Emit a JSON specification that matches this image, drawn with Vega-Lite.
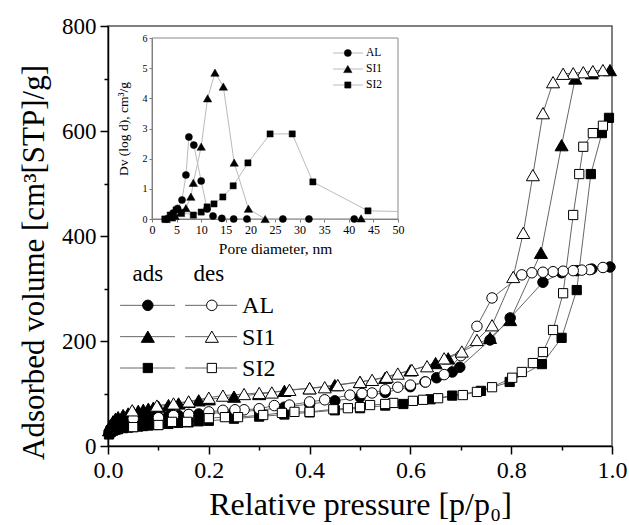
{
"$schema": "https://vega.github.io/schema/vega-lite/v6.json",
"width": 504, "height": 420,
"autosize": "none",
"padding": {"left": 108, "top": 26, "right": 17, "bottom": 79},
"background": "white",
"config": {
  "font": "Liberation Serif",
  "view": {"stroke": "#555", "strokeWidth": 1.5},
  "axis": {"grid": false, "labelFont": "Liberation Serif", "titleFont": "Liberation Serif", "titleFontWeight": "normal", "domainColor": "black", "tickColor": "black", "labelColor": "black", "titleColor": "black", "labelOverlap": false, "labelFlush": false}
},
"datasets": {
  "iso": [
{"s":"AL","m":"ads","p":0.002,"v":26},{"s":"AL","m":"ads","p":0.005,"v":33},{"s":"AL","m":"ads","p":0.01,"v":38},{"s":"AL","m":"ads","p":0.015,"v":41},{"s":"AL","m":"ads","p":0.02,"v":43},{"s":"AL","m":"ads","p":0.03,"v":46},{"s":"AL","m":"ads","p":0.04,"v":48},{"s":"AL","m":"ads","p":0.05,"v":50},{"s":"AL","m":"ads","p":0.06,"v":51},{"s":"AL","m":"ads","p":0.07,"v":52},{"s":"AL","m":"ads","p":0.08,"v":53},{"s":"AL","m":"ads","p":0.09,"v":54},{"s":"AL","m":"ads","p":0.1,"v":55},{"s":"AL","m":"ads","p":0.12,"v":57},{"s":"AL","m":"ads","p":0.14,"v":58},{"s":"AL","m":"ads","p":0.16,"v":60},{"s":"AL","m":"ads","p":0.18,"v":61},{"s":"AL","m":"ads","p":0.2,"v":62},{"s":"AL","m":"ads","p":0.25,"v":65},{"s":"AL","m":"ads","p":0.3,"v":68},{"s":"AL","m":"ads","p":0.35,"v":74},{"s":"AL","m":"ads","p":0.4,"v":80},{"s":"AL","m":"ads","p":0.45,"v":86},{"s":"AL","m":"ads","p":0.5,"v":93},{"s":"AL","m":"ads","p":0.55,"v":102},{"s":"AL","m":"ads","p":0.6,"v":113},{"s":"AL","m":"ads","p":0.629,"v":122},{"s":"AL","m":"ads","p":0.652,"v":130},{"s":"AL","m":"ads","p":0.683,"v":141},{"s":"AL","m":"ads","p":0.698,"v":150},{"s":"AL","m":"ads","p":0.758,"v":202},{"s":"AL","m":"ads","p":0.798,"v":244},{"s":"AL","m":"ads","p":0.863,"v":312},{"s":"AL","m":"ads","p":0.9,"v":330},{"s":"AL","m":"ads","p":0.93,"v":334},{"s":"AL","m":"ads","p":0.96,"v":337},{"s":"AL","m":"ads","p":0.996,"v":341},
{"s":"SI1","m":"ads","p":0.002,"v":30},{"s":"SI1","m":"ads","p":0.005,"v":40},{"s":"SI1","m":"ads","p":0.01,"v":47},{"s":"SI1","m":"ads","p":0.015,"v":52},{"s":"SI1","m":"ads","p":0.02,"v":55},{"s":"SI1","m":"ads","p":0.03,"v":59},{"s":"SI1","m":"ads","p":0.04,"v":62},{"s":"SI1","m":"ads","p":0.05,"v":65},{"s":"SI1","m":"ads","p":0.06,"v":67},{"s":"SI1","m":"ads","p":0.07,"v":69},{"s":"SI1","m":"ads","p":0.08,"v":71},{"s":"SI1","m":"ads","p":0.09,"v":73},{"s":"SI1","m":"ads","p":0.1,"v":75},{"s":"SI1","m":"ads","p":0.12,"v":78},{"s":"SI1","m":"ads","p":0.14,"v":81},{"s":"SI1","m":"ads","p":0.16,"v":84},{"s":"SI1","m":"ads","p":0.18,"v":87},{"s":"SI1","m":"ads","p":0.2,"v":89},{"s":"SI1","m":"ads","p":0.25,"v":94},{"s":"SI1","m":"ads","p":0.3,"v":99},{"s":"SI1","m":"ads","p":0.35,"v":105},{"s":"SI1","m":"ads","p":0.4,"v":110},{"s":"SI1","m":"ads","p":0.45,"v":116},{"s":"SI1","m":"ads","p":0.5,"v":122},{"s":"SI1","m":"ads","p":0.55,"v":130},{"s":"SI1","m":"ads","p":0.6,"v":144},{"s":"SI1","m":"ads","p":0.65,"v":158},{"s":"SI1","m":"ads","p":0.675,"v":167},{"s":"SI1","m":"ads","p":0.758,"v":206},{"s":"SI1","m":"ads","p":0.798,"v":240},{"s":"SI1","m":"ads","p":0.859,"v":368},{"s":"SI1","m":"ads","p":0.9,"v":573},{"s":"SI1","m":"ads","p":0.927,"v":700},{"s":"SI1","m":"ads","p":0.96,"v":710},{"s":"SI1","m":"ads","p":0.996,"v":716},
{"s":"SI2","m":"ads","p":0.002,"v":22},{"s":"SI2","m":"ads","p":0.005,"v":26},{"s":"SI2","m":"ads","p":0.01,"v":29},{"s":"SI2","m":"ads","p":0.015,"v":31},{"s":"SI2","m":"ads","p":0.02,"v":32},{"s":"SI2","m":"ads","p":0.03,"v":34},{"s":"SI2","m":"ads","p":0.04,"v":35},{"s":"SI2","m":"ads","p":0.05,"v":36},{"s":"SI2","m":"ads","p":0.06,"v":37},{"s":"SI2","m":"ads","p":0.07,"v":38},{"s":"SI2","m":"ads","p":0.08,"v":39},{"s":"SI2","m":"ads","p":0.09,"v":40},{"s":"SI2","m":"ads","p":0.1,"v":40},{"s":"SI2","m":"ads","p":0.12,"v":42},{"s":"SI2","m":"ads","p":0.14,"v":44},{"s":"SI2","m":"ads","p":0.16,"v":45},{"s":"SI2","m":"ads","p":0.18,"v":47},{"s":"SI2","m":"ads","p":0.2,"v":48},{"s":"SI2","m":"ads","p":0.25,"v":52},{"s":"SI2","m":"ads","p":0.3,"v":56},{"s":"SI2","m":"ads","p":0.35,"v":60},{"s":"SI2","m":"ads","p":0.4,"v":64},{"s":"SI2","m":"ads","p":0.45,"v":68},{"s":"SI2","m":"ads","p":0.5,"v":72},{"s":"SI2","m":"ads","p":0.55,"v":77},{"s":"SI2","m":"ads","p":0.586,"v":80},{"s":"SI2","m":"ads","p":0.64,"v":89},{"s":"SI2","m":"ads","p":0.683,"v":96},{"s":"SI2","m":"ads","p":0.74,"v":105},{"s":"SI2","m":"ads","p":0.797,"v":122},{"s":"SI2","m":"ads","p":0.861,"v":156},{"s":"SI2","m":"ads","p":0.9,"v":206},{"s":"SI2","m":"ads","p":0.93,"v":297},{"s":"SI2","m":"ads","p":0.958,"v":518},{"s":"SI2","m":"ads","p":0.98,"v":596},{"s":"SI2","m":"ads","p":0.994,"v":625},
{"s":"AL","m":"des","p":0.982,"v":340},{"s":"AL","m":"des","p":0.956,"v":336},{"s":"AL","m":"des","p":0.94,"v":335},{"s":"AL","m":"des","p":0.923,"v":334},{"s":"AL","m":"des","p":0.903,"v":333},{"s":"AL","m":"des","p":0.883,"v":332},{"s":"AL","m":"des","p":0.863,"v":331},{"s":"AL","m":"des","p":0.841,"v":330},{"s":"AL","m":"des","p":0.821,"v":326},{"s":"AL","m":"des","p":0.762,"v":282},{"s":"AL","m":"des","p":0.732,"v":228},{"s":"AL","m":"des","p":0.7,"v":172},{"s":"AL","m":"des","p":0.667,"v":136},{"s":"AL","m":"des","p":0.63,"v":122},{"s":"AL","m":"des","p":0.6,"v":116},{"s":"AL","m":"des","p":0.575,"v":112},{"s":"AL","m":"des","p":0.55,"v":107},{"s":"AL","m":"des","p":0.524,"v":101},{"s":"AL","m":"des","p":0.504,"v":100},{"s":"AL","m":"des","p":0.48,"v":97},{"s":"AL","m":"des","p":0.43,"v":88},{"s":"AL","m":"des","p":0.4,"v":84},{"s":"AL","m":"des","p":0.36,"v":78},{"s":"AL","m":"des","p":0.33,"v":77},{"s":"AL","m":"des","p":0.3,"v":71},{"s":"AL","m":"des","p":0.27,"v":69},{"s":"AL","m":"des","p":0.252,"v":69},{"s":"AL","m":"des","p":0.228,"v":68},{"s":"AL","m":"des","p":0.2,"v":65},{"s":"AL","m":"des","p":0.16,"v":60},{"s":"AL","m":"des","p":0.13,"v":58},{"s":"AL","m":"des","p":0.1,"v":54},{"s":"AL","m":"des","p":0.05,"v":52},
{"s":"SI1","m":"des","p":0.982,"v":716},{"s":"SI1","m":"des","p":0.962,"v":714},{"s":"SI1","m":"des","p":0.943,"v":712},{"s":"SI1","m":"des","p":0.923,"v":710},{"s":"SI1","m":"des","p":0.903,"v":709},{"s":"SI1","m":"des","p":0.883,"v":693},{"s":"SI1","m":"des","p":0.863,"v":634},{"s":"SI1","m":"des","p":0.843,"v":516},{"s":"SI1","m":"des","p":0.824,"v":406},{"s":"SI1","m":"des","p":0.804,"v":322},{"s":"SI1","m":"des","p":0.762,"v":230},{"s":"SI1","m":"des","p":0.732,"v":202},{"s":"SI1","m":"des","p":0.702,"v":180},{"s":"SI1","m":"des","p":0.667,"v":167},{"s":"SI1","m":"des","p":0.633,"v":152},{"s":"SI1","m":"des","p":0.603,"v":145},{"s":"SI1","m":"des","p":0.575,"v":138},{"s":"SI1","m":"des","p":0.553,"v":132},{"s":"SI1","m":"des","p":0.524,"v":126},{"s":"SI1","m":"des","p":0.5,"v":122},{"s":"SI1","m":"des","p":0.456,"v":116},{"s":"SI1","m":"des","p":0.43,"v":112},{"s":"SI1","m":"des","p":0.4,"v":110},{"s":"SI1","m":"des","p":0.36,"v":107},{"s":"SI1","m":"des","p":0.325,"v":102},{"s":"SI1","m":"des","p":0.3,"v":101},{"s":"SI1","m":"des","p":0.27,"v":99},{"s":"SI1","m":"des","p":0.228,"v":96},{"s":"SI1","m":"des","p":0.2,"v":92},{"s":"SI1","m":"des","p":0.16,"v":85},{"s":"SI1","m":"des","p":0.13,"v":81},{"s":"SI1","m":"des","p":0.097,"v":77},{"s":"SI1","m":"des","p":0.048,"v":68},
{"s":"SI2","m":"des","p":0.982,"v":610},{"s":"SI2","m":"des","p":0.962,"v":596},{"s":"SI2","m":"des","p":0.943,"v":570},{"s":"SI2","m":"des","p":0.935,"v":518},{"s":"SI2","m":"des","p":0.923,"v":440},{"s":"SI2","m":"des","p":0.903,"v":291},{"s":"SI2","m":"des","p":0.883,"v":221},{"s":"SI2","m":"des","p":0.863,"v":179},{"s":"SI2","m":"des","p":0.843,"v":158},{"s":"SI2","m":"des","p":0.821,"v":141},{"s":"SI2","m":"des","p":0.802,"v":130},{"s":"SI2","m":"des","p":0.762,"v":112},{"s":"SI2","m":"des","p":0.732,"v":103},{"s":"SI2","m":"des","p":0.704,"v":97},{"s":"SI2","m":"des","p":0.655,"v":91},{"s":"SI2","m":"des","p":0.625,"v":88},{"s":"SI2","m":"des","p":0.605,"v":86},{"s":"SI2","m":"des","p":0.566,"v":82},{"s":"SI2","m":"des","p":0.55,"v":80},{"s":"SI2","m":"des","p":0.52,"v":78},{"s":"SI2","m":"des","p":0.5,"v":74},{"s":"SI2","m":"des","p":0.476,"v":72},{"s":"SI2","m":"des","p":0.447,"v":70},{"s":"SI2","m":"des","p":0.4,"v":65},{"s":"SI2","m":"des","p":0.37,"v":65},{"s":"SI2","m":"des","p":0.345,"v":63},{"s":"SI2","m":"des","p":0.308,"v":59},{"s":"SI2","m":"des","p":0.258,"v":55},{"s":"SI2","m":"des","p":0.232,"v":55},{"s":"SI2","m":"des","p":0.2,"v":53},{"s":"SI2","m":"des","p":0.157,"v":46},{"s":"SI2","m":"des","p":0.127,"v":46},{"s":"SI2","m":"des","p":0.1,"v":40},{"s":"SI2","m":"des","p":0.05,"v":36}
  ],
  "psd": [
{"s":"AL","d":3.0,"v":0},{"s":"AL","d":4.3,"v":0.2},{"s":"AL","d":5.2,"v":0.35},{"s":"AL","d":6.1,"v":0.63},{"s":"AL","d":6.9,"v":1.46},{"s":"AL","d":7.5,"v":2.72},{"s":"AL","d":8.5,"v":2.45},{"s":"AL","d":10.0,"v":1.26},{"s":"AL","d":11.2,"v":0.33},{"s":"AL","d":12.4,"v":0.1},{"s":"AL","d":14.2,"v":0.02},{"s":"AL","d":16.6,"v":0},{"s":"AL","d":19.3,"v":0},{"s":"AL","d":26.6,"v":0},{"s":"AL","d":31.9,"v":0},{"s":"AL","d":41.1,"v":0},
{"s":"SI1","d":2.9,"v":0},{"s":"SI1","d":4.0,"v":0.05},{"s":"SI1","d":4.7,"v":0.1},{"s":"SI1","d":5.8,"v":0.2},{"s":"SI1","d":6.9,"v":0.36},{"s":"SI1","d":7.9,"v":0.74},{"s":"SI1","d":8.4,"v":1.2},{"s":"SI1","d":10.0,"v":2.4},{"s":"SI1","d":11.3,"v":4.0},{"s":"SI1","d":12.8,"v":4.85},{"s":"SI1","d":14.5,"v":4.39},{"s":"SI1","d":16.7,"v":1.87},{"s":"SI1","d":19.6,"v":0.34},{"s":"SI1","d":23.0,"v":0},{"s":"SI1","d":42.5,"v":0.02},
{"s":"SI2","d":2.6,"v":0},{"s":"SI2","d":3.7,"v":0.13},{"s":"SI2","d":4.9,"v":0.3},{"s":"SI2","d":6.0,"v":0.22},{"s":"SI2","d":8.4,"v":0.13},{"s":"SI2","d":10.0,"v":0.23},{"s":"SI2","d":11.2,"v":0.4},{"s":"SI2","d":12.6,"v":0.5},{"s":"SI2","d":14.4,"v":0.73},{"s":"SI2","d":16.5,"v":1.1},{"s":"SI2","d":19.5,"v":1.86},{"s":"SI2","d":24.0,"v":2.82},{"s":"SI2","d":28.5,"v":2.82},{"s":"SI2","d":32.7,"v":1.23},{"s":"SI2","d":43.9,"v":0.27},{"s":"SI2","d":50.0,"v":0.25}
  ],
  "leg": [{"s":"AL"},{"s":"SI1"},{"s":"SI2"}]
},
"layer": [
  {
    "data": {"name": "iso"},
    "encoding": {
      "x": {"field": "p", "type": "quantitative", "scale": {"domain": [0, 1], "nice": false, "zero": false},
        "axis": {"orient": "bottom", "values": [0,0.1,0.2,0.3,0.4,0.5,0.6,0.7,0.8,0.9,1.0],
          "labelExpr": "round(datum.value*10) % 2 == 0 ? format(datum.value, '.1f') : ''",
          "tickSize": {"condition": {"test": "round(datum.value*10) % 2 == 0", "value": 8}, "value": 4},
          "labelFontSize": 24, "labelPadding": 4, "tickWidth": 1.5, "domainWidth": 1.5,
          "title": "Relative pressure [p/p₀]", "titleFontSize": 32, "titlePadding": 7}},
      "y": {"field": "v", "type": "quantitative", "scale": {"domain": [0, 800], "nice": false},
        "axis": {"orient": "left", "values": [0,100,200,300,400,500,600,700,800],
          "labelExpr": "datum.value % 200 == 0 ? datum.label : ''",
          "tickSize": {"condition": {"test": "datum.value % 200 == 0", "value": 8}, "value": 4},
          "labelFontSize": 23, "labelPadding": 4, "tickWidth": 1.5, "domainWidth": 1.5,
          "title": "Adsorbed volume [cm³[STP]/g]", "titleFontSize": 31, "titlePadding": 11, "titleY": 236}}
    },
    "layer": [
      {"mark": {"type": "line", "color": "#666", "strokeWidth": 1}, "encoding": {"detail": [{"field": "s"}, {"field": "m"}], "order": {"field": "p"}}},
      {"transform": [{"filter": "datum.m == 'ads' && datum.s == 'AL'"}], "mark": {"type": "point", "shape": "circle", "size": 110, "filled": true, "fill": "black", "stroke": "black", "strokeWidth": 1, "opacity": 1}},
      {"transform": [{"filter": "datum.m == 'ads' && datum.s == 'SI1'"}], "mark": {"type": "point", "shape": "triangle-up", "size": 170, "filled": true, "fill": "black", "stroke": "black", "strokeWidth": 1, "opacity": 1}},
      {"transform": [{"filter": "datum.m == 'ads' && datum.s == 'SI2'"}], "mark": {"type": "point", "shape": "square", "size": 85, "filled": true, "fill": "black", "stroke": "black", "strokeWidth": 1, "opacity": 1}},
      {"transform": [{"filter": "datum.m == 'des' && datum.s == 'AL'"}], "mark": {"type": "point", "shape": "circle", "size": 110, "filled": true, "fill": "white", "stroke": "black", "strokeWidth": 1, "opacity": 1}},
      {"transform": [{"filter": "datum.m == 'des' && datum.s == 'SI1'"}], "mark": {"type": "point", "shape": "triangle-up", "size": 170, "filled": true, "fill": "white", "stroke": "black", "strokeWidth": 1, "opacity": 1}},
      {"transform": [{"filter": "datum.m == 'des' && datum.s == 'SI2'"}], "mark": {"type": "point", "shape": "square", "size": 85, "filled": true, "fill": "white", "stroke": "black", "strokeWidth": 1, "opacity": 1}}
    ]
  },
  {
    "data": {"name": "leg"},
    "encoding": {
      "y": {"field": "s", "type": "nominal", "scale": {"type": "point", "domain": ["hdr","AL","SI1","SI2"], "range": [248, 342], "padding": 0}, "axis": null}
    },
    "layer": [
      {"mark": {"type": "rule", "color": "#666", "strokeWidth": 1},
       "encoding": {"x": {"datum": 0.024, "type": "quantitative", "scale": {"domain": [0, 1], "nice": false, "zero": false}, "axis": null}, "x2": {"datum": 0.133}}},
      {"mark": {"type": "rule", "color": "#666", "strokeWidth": 1},
       "encoding": {"x": {"datum": 0.153, "type": "quantitative"}, "x2": {"datum": 0.256}}},
      {"transform": [{"filter": "datum.s == 'AL'"}], "mark": {"type": "point", "shape": "circle", "size": 110, "filled": true, "fill": "black", "stroke": "black", "strokeWidth": 1, "opacity": 1}, "encoding": {"x": {"datum": 0.079, "type": "quantitative"}}},
      {"transform": [{"filter": "datum.s == 'SI1'"}], "mark": {"type": "point", "shape": "triangle-up", "size": 170, "filled": true, "fill": "black", "stroke": "black", "strokeWidth": 1, "opacity": 1}, "encoding": {"x": {"datum": 0.079, "type": "quantitative"}}},
      {"transform": [{"filter": "datum.s == 'SI2'"}], "mark": {"type": "point", "shape": "square", "size": 85, "filled": true, "fill": "black", "stroke": "black", "strokeWidth": 1, "opacity": 1}, "encoding": {"x": {"datum": 0.079, "type": "quantitative"}}},
      {"transform": [{"filter": "datum.s == 'AL'"}], "mark": {"type": "point", "shape": "circle", "size": 110, "filled": true, "fill": "white", "stroke": "black", "strokeWidth": 1, "opacity": 1}, "encoding": {"x": {"datum": 0.206, "type": "quantitative"}}},
      {"transform": [{"filter": "datum.s == 'SI1'"}], "mark": {"type": "point", "shape": "triangle-up", "size": 170, "filled": true, "fill": "white", "stroke": "black", "strokeWidth": 1, "opacity": 1}, "encoding": {"x": {"datum": 0.206, "type": "quantitative"}}},
      {"transform": [{"filter": "datum.s == 'SI2'"}], "mark": {"type": "point", "shape": "square", "size": 85, "filled": true, "fill": "white", "stroke": "black", "strokeWidth": 1, "opacity": 1}, "encoding": {"x": {"datum": 0.206, "type": "quantitative"}}},
      {"mark": {"type": "text", "align": "left", "baseline": "middle", "fontSize": 24, "font": "Liberation Serif", "color": "black", "dy": 1},
       "encoding": {"x": {"datum": 0.266, "type": "quantitative"}, "text": {"field": "s"}}},
      {"data": {"values": [{"h": "ads"}]}, "mark": {"type": "text", "align": "center", "baseline": "middle", "fontSize": 23, "font": "Liberation Serif", "color": "black"},
       "encoding": {"x": {"datum": 0.079, "type": "quantitative"}, "y": {"datum": "hdr", "type": "nominal"}, "text": {"field": "h"}}},
      {"data": {"values": [{"h": "des"}]}, "mark": {"type": "text", "align": "center", "baseline": "middle", "fontSize": 23, "font": "Liberation Serif", "color": "black"},
       "encoding": {"x": {"datum": 0.2, "type": "quantitative"}, "y": {"datum": "hdr", "type": "nominal"}, "text": {"field": "h"}}}
    ]
  },
  {
    "data": {"name": "psd"},
    "encoding": {
      "x": {"field": "d", "type": "quantitative", "scale": {"domain": [0, 50], "range": [44, 290], "nice": false, "zero": false},
        "axis": {"orient": "bottom", "offset": -227, "values": [0,5,10,15,20,25,30,35,40,45,50], "labelFontSize": 12, "labelPadding": 2, "tickSize": 3, "domainColor": "#777", "tickColor": "#777",
          "title": "Pore diameter, nm", "titleFontSize": 15.5, "titlePadding": 6}},
      "y": {"field": "v", "type": "quantitative", "scale": {"domain": [0, 6], "range": [193, 12], "nice": false},
        "axis": {"orient": "left", "offset": -44, "values": [0,1,2,3,4,5,6], "labelFontSize": 10, "labelPadding": 2, "tickSize": 3, "domainColor": "#777", "tickColor": "#777",
          "title": "Dv (log d), cm³/g", "titleFontSize": 13.5, "titlePadding": 12}}
    },
    "layer": [
      {"data": {"values": [{"a": 0, "b": 50, "c": 0, "e": 6}]}, "mark": {"type": "rect", "fillOpacity": 0, "stroke": "#888", "strokeWidth": 1},
       "encoding": {"x": {"field": "a", "type": "quantitative"}, "x2": {"field": "b"}, "y": {"field": "c", "type": "quantitative"}, "y2": {"field": "e"}}},
      {"mark": {"type": "line", "color": "#bbb", "strokeWidth": 1}, "encoding": {"detail": {"field": "s"}, "order": {"field": "d"}}},
      {"transform": [{"filter": "datum.d < 49 && datum.s == 'AL'"}], "mark": {"type": "point", "shape": "circle", "size": 50, "filled": true, "fill": "black", "stroke": "black", "strokeWidth": 0.5, "opacity": 1}},
      {"transform": [{"filter": "datum.d < 49 && datum.s == 'SI1'"}], "mark": {"type": "point", "shape": "triangle-up", "size": 70, "filled": true, "fill": "black", "stroke": "black", "strokeWidth": 0.5, "opacity": 1}},
      {"transform": [{"filter": "datum.d < 49 && datum.s == 'SI2'"}], "mark": {"type": "point", "shape": "square", "size": 38, "filled": true, "fill": "black", "stroke": "black", "strokeWidth": 0.5, "opacity": 1}}
    ]
  },
  {
    "data": {"name": "leg"},
    "encoding": {
      "y": {"field": "s", "type": "nominal", "scale": {"type": "point", "domain": ["AL","SI1","SI2"], "range": [27, 59], "padding": 0}, "axis": null}
    },
    "layer": [
      {"mark": {"type": "rule", "color": "#bbb", "strokeWidth": 1},
       "encoding": {"x": {"datum": 36.8, "type": "quantitative", "scale": {"domain": [0, 50], "range": [44, 290], "nice": false, "zero": false}, "axis": null}, "x2": {"datum": 42.9}}},
      {"transform": [{"filter": "datum.s == 'AL'"}], "mark": {"type": "point", "shape": "circle", "size": 50, "filled": true, "fill": "black", "stroke": "black", "strokeWidth": 0.5, "opacity": 1}, "encoding": {"x": {"datum": 39.8, "type": "quantitative"}}},
      {"transform": [{"filter": "datum.s == 'SI1'"}], "mark": {"type": "point", "shape": "triangle-up", "size": 70, "filled": true, "fill": "black", "stroke": "black", "strokeWidth": 0.5, "opacity": 1}, "encoding": {"x": {"datum": 39.8, "type": "quantitative"}}},
      {"transform": [{"filter": "datum.s == 'SI2'"}], "mark": {"type": "point", "shape": "square", "size": 38, "filled": true, "fill": "black", "stroke": "black", "strokeWidth": 0.5, "opacity": 1}, "encoding": {"x": {"datum": 39.8, "type": "quantitative"}}},
      {"mark": {"type": "text", "align": "left", "baseline": "middle", "fontSize": 11.5, "font": "Liberation Serif", "color": "black"},
       "encoding": {"x": {"datum": 43.5, "type": "quantitative"}, "text": {"field": "s"}}}
    ]
  }
],
"resolve": {
  "scale": {"x": "independent", "y": "independent"},
  "axis": {"x": "independent", "y": "independent"}
}
}
